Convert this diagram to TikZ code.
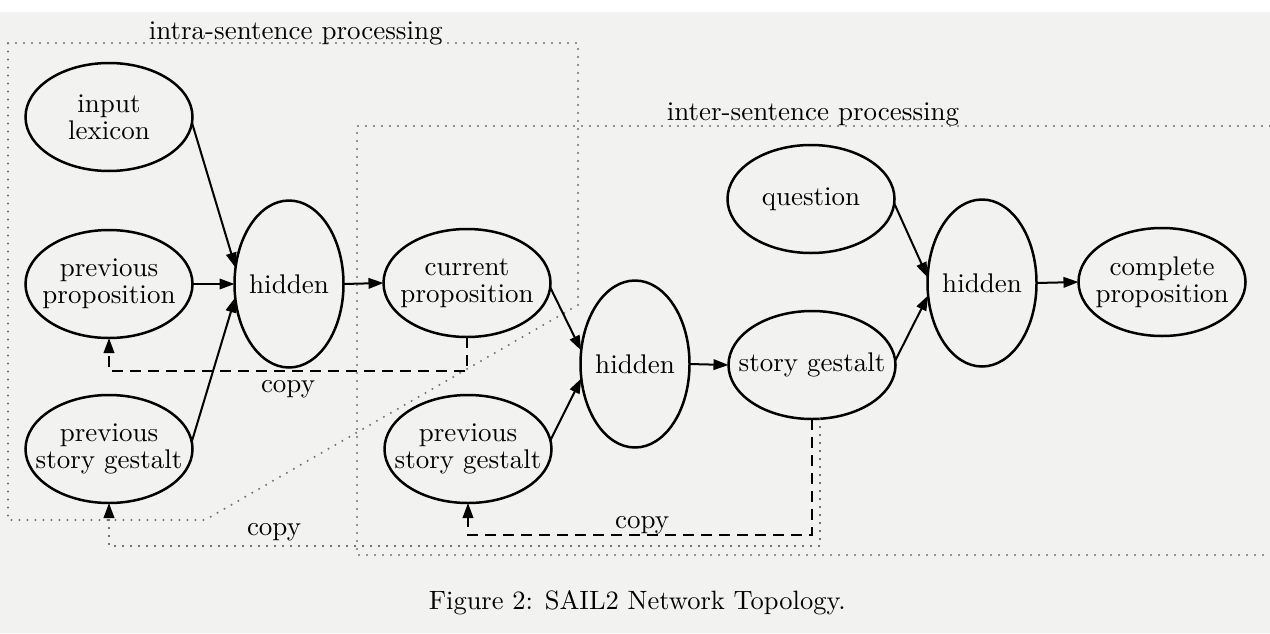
\documentclass[tikz,border=0pt]{standalone}
\usetikzlibrary{shapes.geometric,arrows.meta,calc}
\definecolor{paper}{RGB}{242,242,240}
\definecolor{dotgray}{RGB}{115,115,115}
\begin{document}
\begin{tikzpicture}[x=0.4pt,y=-0.4pt,
  every node/.style={font=\fontsize{10.8}{10.9}\selectfont},
  blob/.style 2 args={ellipse, draw, line width=1pt, inner sep=0pt, outer sep=0pt,
    minimum width=#1*0.4pt, minimum height=#2*0.4pt},
  flatell/.style={blob={167}{108}},
  tallell/.style={blob={109}{167}},
  tag/.style={label={[align=center]center:#1}},
  tip/.style={-{Triangle[length=6pt,width=4.2pt,color=black]}},
  flow/.style={tip, line width=0.8pt},
  copyline/.style={tip, line width=0.9pt, dash pattern=on 4.4pt off 2.8pt},
  copydots/.style={tip, draw=black!70, line width=0.9pt, line cap=round, dash pattern=on 0pt off 3.2pt},
  region/.style={draw=dotgray, line width=0.9pt, line cap=round, dash pattern=on 0pt off 3.2pt},
  lbl/.style={anchor=base}
]
% page
\useasboundingbox (0,0) rectangle (1270,633);
\fill[paper] (0,12) rectangle (1270,633);

% processing regions
\draw[region] (8,43) -- (578,43) -- (578,305) -- (205,520) -- (8,520) -- cycle;
\draw[region] (1270,126) -- (357,126) -- (357,555) -- (1270,555);
\node[anchor=base west] (intra) at (140,39) {intra-sentence processing};
\node[anchor=base west] (inter) at (658,120) {inter-sentence processing};

% layers
\node[flatell, tag={input\\lexicon}] (il) at (109,117) {};
\node[flatell, tag={previous\\proposition}] (pp) at (109,284) {};
\node[flatell, tag={previous\\story gestalt}] (psga) at (109,449) {};
\node[tallell, tag={hidden}] (ha) at (289,284) {};
\node[flatell, tag={current\\proposition}] (cp) at (467,283) {};
\node[flatell, tag={previous\\story gestalt}] (psgb) at (468,449) {};
\node[tallell, tag={hidden}] (hb) at (635,364) {};
\node[flatell, tag={story gestalt}] (sg) at (812,365) {};
\node[flatell, tag={question}] (qu) at (811,199) {};
\node[tallell, tag={hidden}] (hc) at (982,283) {};
\node[flatell, tag={complete\\proposition}] (co) at (1162,282) {};

% feed-forward connections
\draw[flow] (il.356) -- (ha.163);
\draw[flow] (pp.east) -- (ha.west);
\draw[flow] (psga.5) -- (ha.194);
\draw[flow] (ha.east) -- (cp.west);
\draw[flow] (cp.357) -- (hb.166);
\draw[flow] (psgb.6) -- (hb.195);
\draw[flow] (hb.east) -- (sg.west);
\draw[flow] (qu.357) -- (hc.174);
\draw[flow] (sg.3) -- (hc.193);
\draw[flow] (hc.east) -- (co.west);

% copy connections
\draw[copyline] (cp.south) -- ++(0,34) coordinate (ca) -| (pp.south);
\draw[copyline] (sg.south) -- ++(0,116) coordinate (cb) -| (psgb.south);
\draw[copydots] ([xshift=3.2pt]sg.south) -- ++(0,127) coordinate (cc) -| (psga.south);
\node[lbl] (copya) at (288,392) {copy};
\node[lbl] (copyb) at (642,528) {copy};
\node[lbl] (copyc) at (274,535) {copy};

% caption
\node[anchor=base west, font=\fontsize{10.6}{12}\selectfont] (cap) at (420,609) {Figure 2: SAIL2 Network Topology.};
\end{tikzpicture}
\end{document}
